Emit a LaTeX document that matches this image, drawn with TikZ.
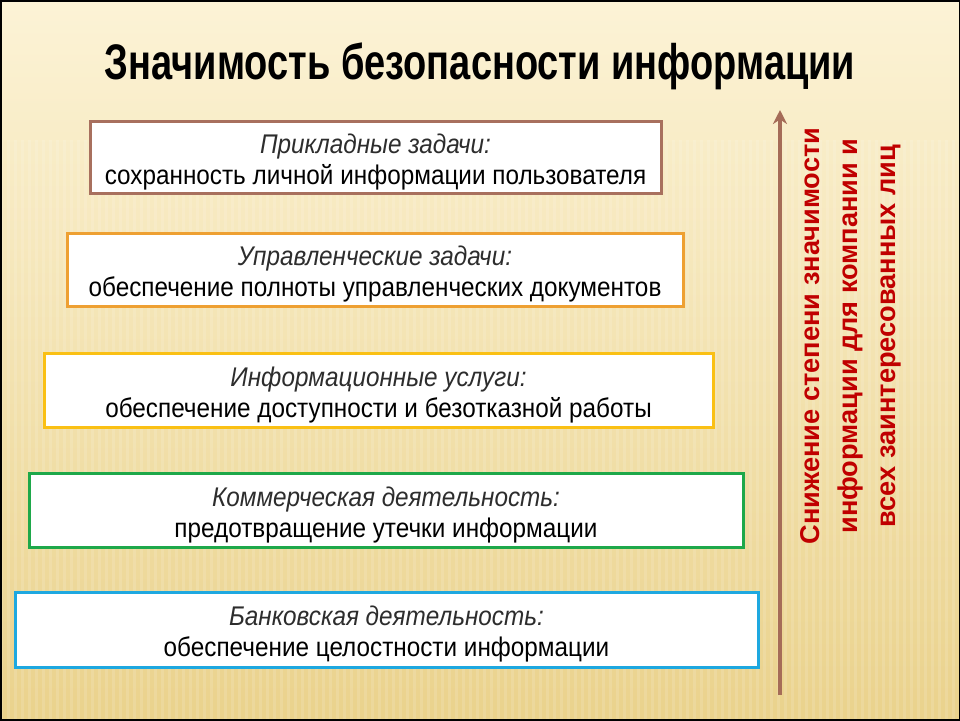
\documentclass[tikz,border=0pt]{standalone}
\usepackage{fontspec}
\setmainfont{Liberation Sans}
\newfontfamily\narrowfont[FakeStretch=0.9]{Liberation Sans}
\newfontfamily\titlefont[FakeStretch=0.76]{Liberation Sans}
\usetikzlibrary{arrows.meta}

\definecolor{bgtop}{RGB}{252,243,214}
\definecolor{bgbottom}{RGB}{234,210,140}
\definecolor{headgray}{RGB}{45,45,45}
\definecolor{c1}{RGB}{168,112,94}
\definecolor{c2}{RGB}{238,160,50}
\definecolor{c3}{RGB}{250,192,20}
\definecolor{c4}{RGB}{30,168,74}
\definecolor{c5}{RGB}{30,168,224}
\definecolor{arrowbrown}{RGB}{165,108,88}
\definecolor{textred}{RGB}{192,0,0}

\tikzset{
  tier/.style={draw, fill=white, line width=1.5pt, align=center, inner sep=0pt,
    font=\narrowfont\fontsize{13.5}{15.5}\selectfont},
  rise/.style={draw=arrowbrown, line width=2pt, -{Stealth[length=7pt,width=7pt]}},
}
\newcommand{\head}[1]{\rule{0pt}{14.5pt}{\itshape\color{headgray}#1}\\}

\begin{document}
\begin{tikzpicture}[x=0.5pt,y=-0.5pt]
  % latar belakang
  \useasboundingbox (0,0) rectangle (960,720);
  \shade[top color=bgtop, bottom color=bgbottom] (0,0) rectangle (960,720);
  \foreach \i in {0,7,...,960}
    \fill[white, opacity=0.13] (\i,140) rectangle ++(3,580);
  \draw[line width=1pt, black] (0.5,0.5) rectangle (959.5,719.5);

  % judul
  \node (title) at (480,66) {\titlefont\bfseries\fontsize{25}{30}\selectfont Значимость безопасности информации};

  % kotak-kotak
  \node (applied) [tier, draw=c1, minimum width=285.5pt, minimum height=36pt] at (375.5,157)
    {\head{Прикладные задачи:}сохранность личной информации пользователя};
  \node (manage) [tier, draw=c2, minimum width=308pt, minimum height=36.5pt] at (375,269.5)
    {\head{Управленческие задачи:}обеспечение полноты управленческих документов};
  \node (service) [tier, draw=c3, minimum width=334.5pt, minimum height=37pt] at (378.5,390)
    {\head{Информационные услуги:}обеспечение доступности и безотказной работы};
  \node (trade) [tier, draw=c4, minimum width=357pt, minimum height=37pt] at (386,510)
    {\head{Коммерческая деятельность:}предотвращение утечки информации};
  \node (bank) [tier, draw=c5, minimum width=371.5pt, minimum height=37.5pt] at (386.5,629.5)
    {\head{Банковская деятельность:}обеспечение целостности информации};

  % panah dan keterangan
  \coordinate (low) at (780,695);
  \coordinate (high) at (780,110);
  \draw[rise] (low) -- (high);
  \node (note) [rotate=90, align=center, text=textred, font=\bfseries\fontsize{13.6}{19}\selectfont] at (851,336)
    {Снижение степени значимости\\информации для компании и\\всех заинтересованных лиц};
\end{tikzpicture}
\end{document}
